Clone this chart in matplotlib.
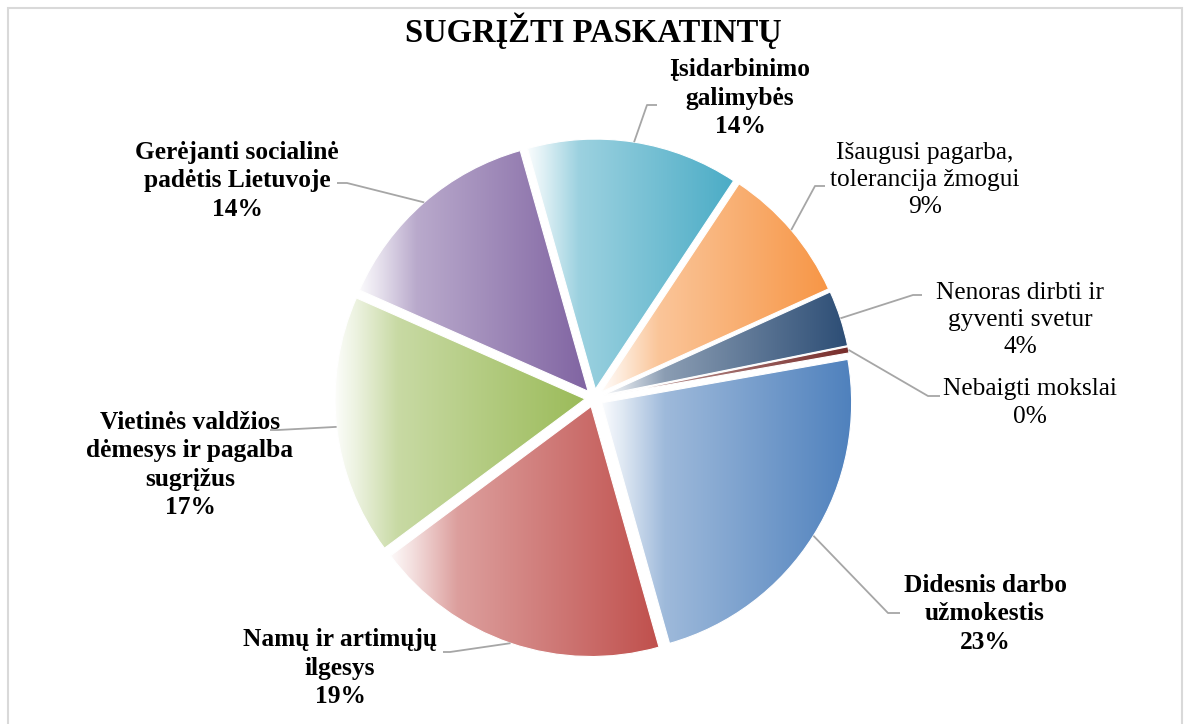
import numpy as np
import matplotlib.pyplot as plt
from matplotlib.colors import to_rgb

W, H = 1186, 724

# --- data ---
title = "SUGRĮŽTI PASKATINTŲ"
categories = [
    "Didesnis darbo\nužmokestis",
    "Namų ir artimųjų\nilgesys",
    "Vietinės valdžios\ndėmesys ir pagalba\nsugrįžus",
    "Gerėjanti socialinė\npadėtis Lietuvoje",
    "Įsidarbinimo\ngalimybės",
    "Išaugusi pagarba,\ntolerancija žmogui",
    "Nenoras dirbti ir\ngyventi svetur",
    "Nebaigti mokslai",
]
shares = [23.4, 19.2, 16.8, 14.0, 13.7, 8.9, 3.6, 0.4]
bold = [True, True, True, True, True, False, False, False]

colors = ["#4F81BD", "#C0504D", "#9BBB59", "#8064A2", "#4BACC6",
          "#F79646", "#2C4D75", "#772C2A"]

# label layout (pixel coords, y from top)
label_pos = [(985, 614), (340, 668), (190, 465), (237, 181),
             (740, 98), (925, 180), (1020, 320), (1030, 403)]
# leader elbow and end points (pixel coords)
leader_pts = [
    [(888, 613), (900, 613)],
    [(450, 652), (443, 652)],
    [(278, 430), (270, 430)],
    [(347, 183), (337, 183)],
    [(647, 105), (657, 105)],
    [(815, 186), (825, 186)],
    [(913, 295), (922, 295)],
    [(928, 396), (940, 396)],
]


def fy(y):
    return H - y


fig = plt.figure(figsize=(W / 100, H / 100), dpi=100)
ax = fig.add_axes([0, 0, 1, 1])

cx, cy, R = 594, fy(398), 250
wedges, _ = ax.pie(
    shares,
    colors=colors,
    startangle=10,
    counterclock=False,
    radius=R,
    center=(cx, cy),
    explode=[9] * len(shares),  # data units (pixels) here
    wedgeprops=dict(edgecolor="white", linewidth=0.8),
)

# horizontal white -> colour gradient inside each slice
t = np.linspace(0, 1, 256)
white_frac = np.interp(t, [0, 0.08, 0.25, 1.0], [0.97, 0.82, 0.45, 0.0])
for w, c in zip(wedges, colors):
    rgb = np.array(to_rgb(c))
    row = white_frac[:, None] * 1.0 + (1 - white_frac[:, None]) * rgb
    grad = np.stack([row, row])
    bb = w.get_path().get_extents()
    im = ax.imshow(grad, extent=[bb.x0, bb.x1, bb.y0, bb.y1],
                   interpolation="bilinear", zorder=w.get_zorder() - 0.1)
    im.set_clip_path(w)
    w.set_facecolor("none")

# labels and leader lines
for w, cat, s, b, (lx, ly), pts in zip(wedges, categories, shares, bold,
                                       label_pos, leader_pts):
    mid = np.deg2rad((w.theta1 + w.theta2) / 2)
    wx, wy = w.center
    sx, sy = wx + R * np.cos(mid), wy + R * np.sin(mid)
    xs = [sx] + [p[0] for p in pts]
    ys = [sy] + [fy(p[1]) for p in pts]
    ax.plot(xs, ys, color="#A6A6A6", lw=1.3, zorder=1, solid_capstyle="butt")
    ax.text(lx, fy(ly), f"{cat}\n{s:.0f}%", ha="center", va="center",
            fontsize=18.3, family="Liberation Serif",
            fontweight="bold" if b else "normal", linespacing=1.3,
            color="black")

ax.text(593, fy(31), title, ha="center", va="center", fontsize=23.5,
        family="Liberation Serif", fontweight="bold")

# chart area border
ax.plot([8, 8, 1182, 1182], [0, fy(8), fy(8), 0], color="#D9D9D9", lw=1.5,
        solid_joinstyle="miter")

ax.set_xlim(0, W)
ax.set_ylim(0, H)
ax.set_aspect("equal")
ax.axis("off")

fig.savefig("out.png", dpi=100)
